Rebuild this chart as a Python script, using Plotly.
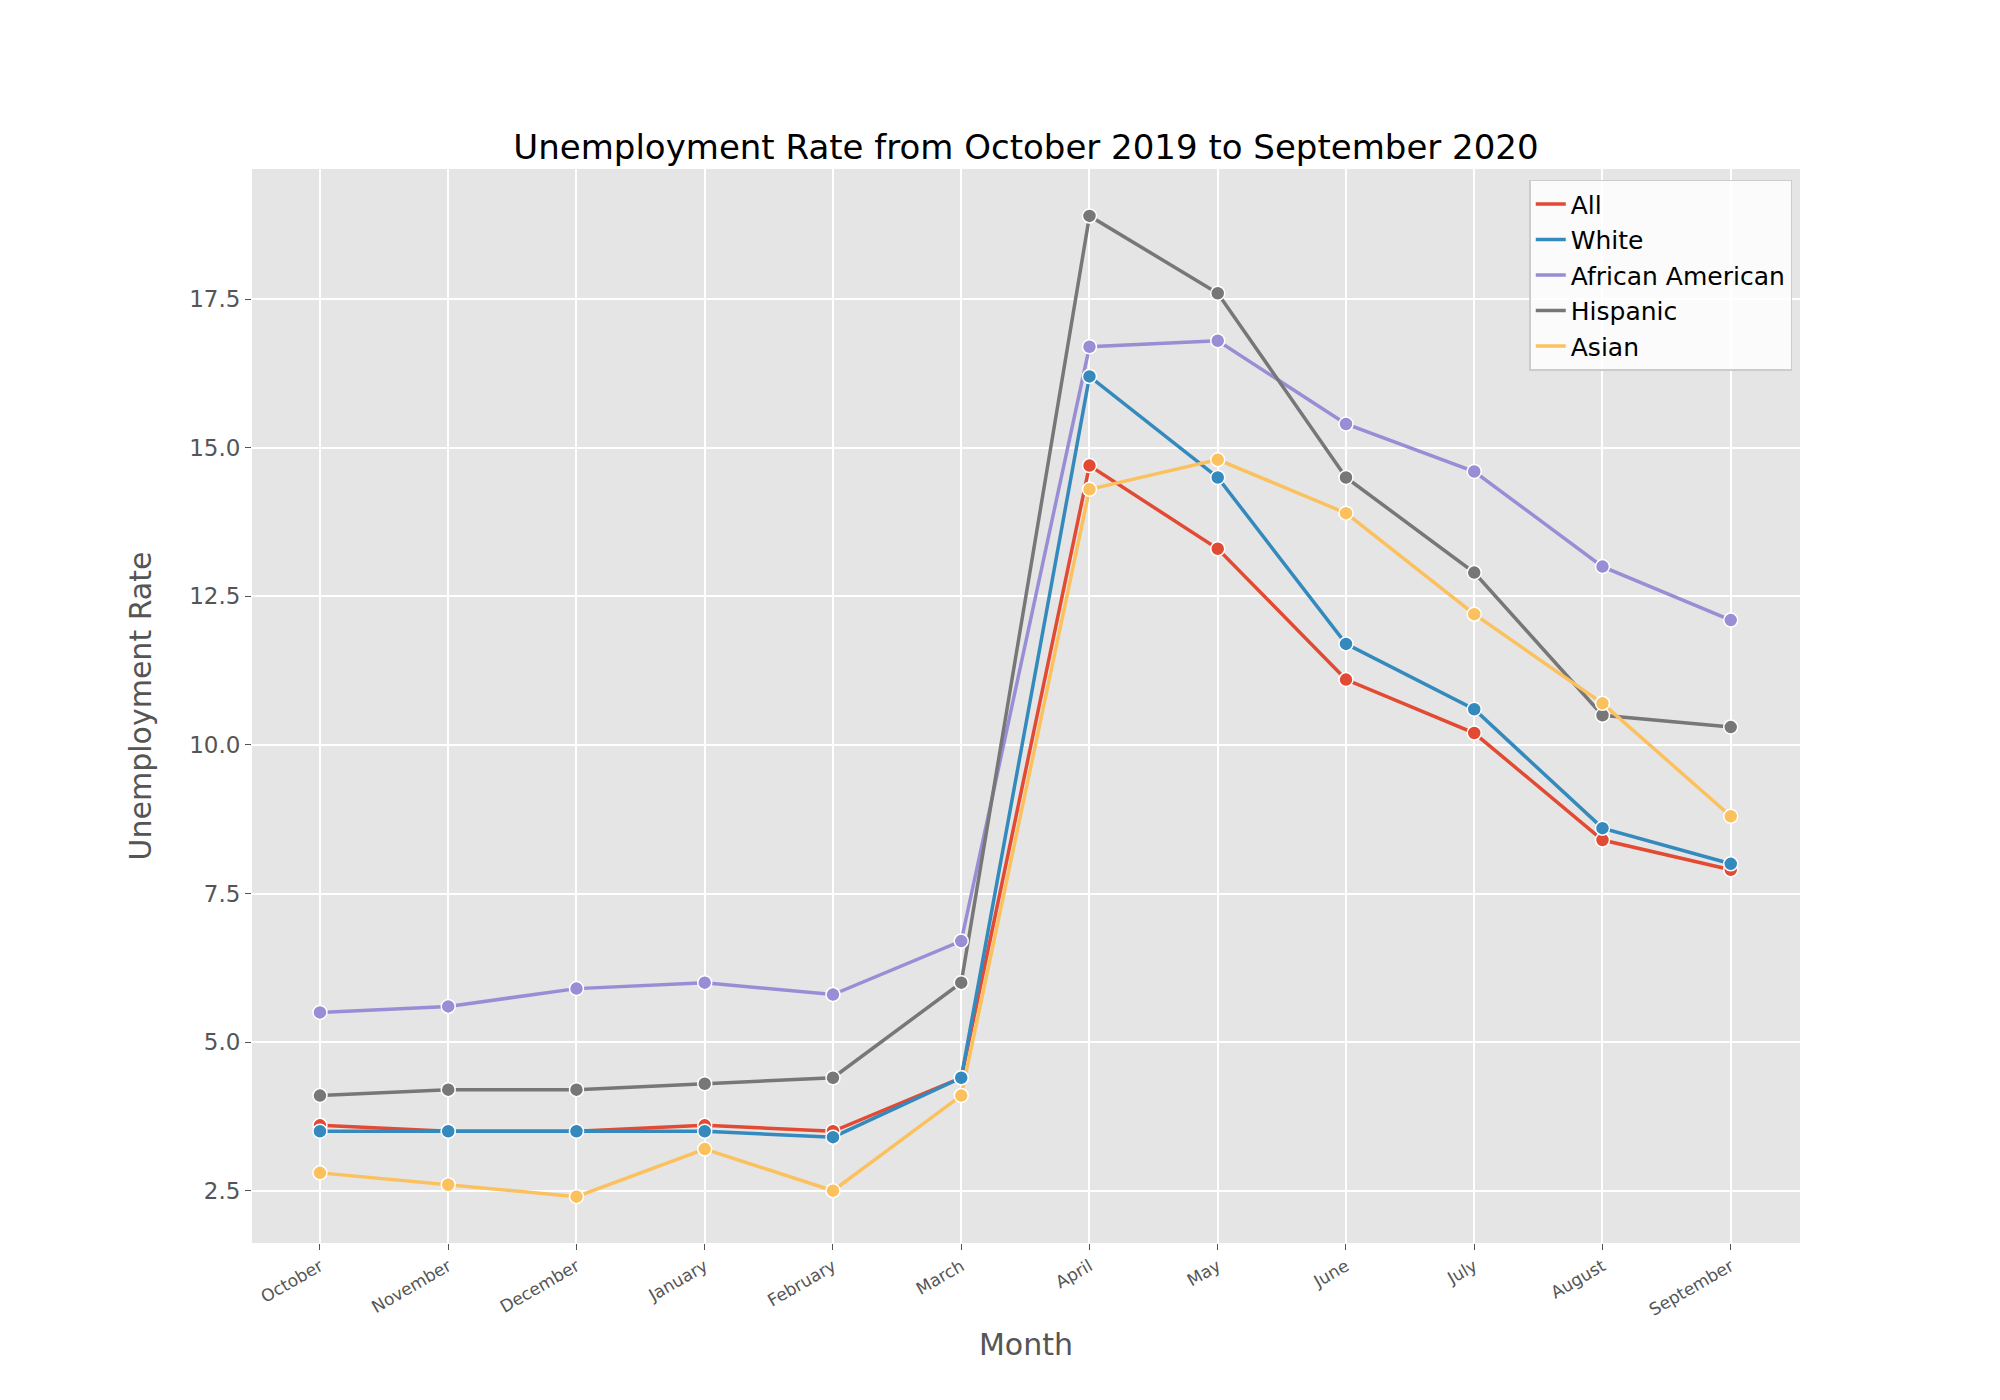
import plotly.graph_objects as go

months = ["October", "November", "December", "January", "February", "March",
          "April", "May", "June", "July", "August", "September"]

all_rate = [3.6, 3.5, 3.5, 3.6, 3.5, 4.4, 14.7, 13.3, 11.1, 10.2, 8.4, 7.9]
white = [3.5, 3.5, 3.5, 3.5, 3.4, 4.4, 16.2, 14.5, 11.7, 10.6, 8.6, 8.0]
african_american = [5.5, 5.6, 5.9, 6.0, 5.8, 6.7, 16.7, 16.8, 15.4, 14.6, 13.0, 12.1]
hispanic = [4.1, 4.2, 4.2, 4.3, 4.4, 6.0, 18.9, 17.6, 14.5, 12.9, 10.5, 10.3]
asian = [2.8, 2.6, 2.4, 3.2, 2.5, 4.1, 14.3, 14.8, 13.9, 12.2, 10.7, 8.8]

series = [("All", all_rate, "#E24A33"),
          ("White", white, "#348ABD"),
          ("African American", african_american, "#988ED5"),
          ("Hispanic", hispanic, "#777777"),
          ("Asian", asian, "#FBC15E")]

xs = list(range(len(months)))
fig = go.Figure()
for name, vals, col in series:
    # line trace carries the legend entry (line only, like matplotlib)
    fig.add_trace(go.Scatter(x=xs, y=vals, name=name, mode="lines",
                             line=dict(color=col, width=3.5)))
for name, vals, col in series:
    fig.add_trace(go.Scatter(
        x=xs, y=vals, name=name, mode="markers", showlegend=False,
        marker=dict(size=14, color=col, line=dict(color="white", width=1.5))))

fig.update_layout(
    width=2000, height=1400,
    paper_bgcolor="white", plot_bgcolor="#E5E5E5",
    font=dict(family="DejaVu Sans", color="#555555"),
    margin=dict(l=244, r=208, t=161, b=165),
    title=dict(text="Unemployment Rate from October 2019 to September 2020",
               x=0.5, xref="paper", xanchor="center", y=0.901, yanchor="middle",
               font=dict(size=34, color="black")),
    showlegend=True,
    legend=dict(x=0.995, y=0.99, xanchor="right", yanchor="top",
                bgcolor="rgba(255,255,255,0.85)", bordercolor="#CCCCCC",
                borderwidth=1.5, font=dict(size=25, color="black")),
)
fig.update_xaxes(
    range=[-0.53, 11.54], tickmode="array", tickvals=xs,
    ticktext=months, tickangle=-30, tickfont=dict(size=17),
    showgrid=True, gridcolor="white", gridwidth=2, zeroline=False,
    ticks="outside", ticklen=6, tickcolor="#555555",
    title=dict(text="Month", font=dict(size=30)))
fig.update_yaxes(
    range=[1.62, 19.69], tickvals=[2.5, 5.0, 7.5, 10.0, 12.5, 15.0, 17.5],
    tickformat=".1f", tickfont=dict(size=23),
    showgrid=True, gridcolor="white", gridwidth=2, zeroline=False,
    ticks="outside", ticklen=6, tickcolor="#555555",
    title=dict(text="Unemployment Rate", font=dict(size=30), standoff=28))

fig.write_html("out.html")
